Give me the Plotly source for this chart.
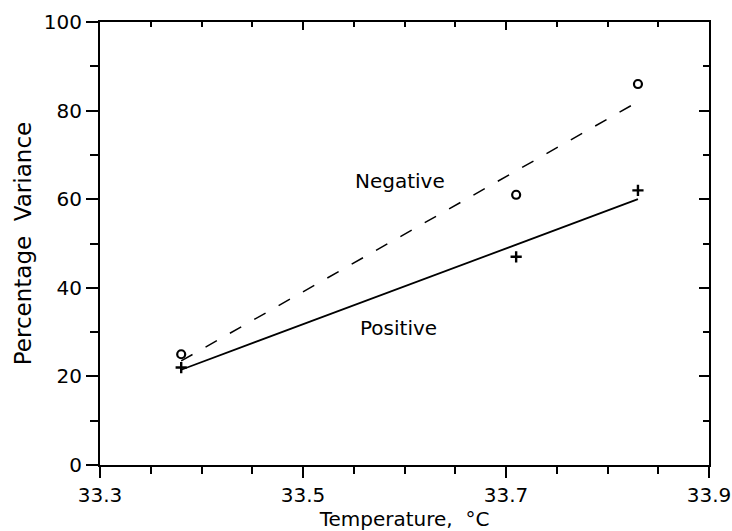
import plotly.graph_objects as go

# Data
temp = [33.38, 33.71, 33.83]
negative = [25, 61, 86]
positive = [22, 47, 62]

# Fitted line endpoints
fit_x = [33.38, 33.83]
neg_fit = [23.5, 82]
pos_fit = [21.5, 60]

x_ticks = [33.3, 33.5, 33.7, 33.9]
y_ticks = [0, 20, 40, 60, 80, 100]

FONT = "DejaVu Sans, Liberation Sans, Arial, sans-serif"

fig = go.Figure()
fig.add_trace(go.Scatter(x=fit_x, y=neg_fit, mode="lines",
                         line=dict(color="black", width=1.5, dash="13px,15px"),
                         showlegend=False, hoverinfo="skip"))
fig.add_trace(go.Scatter(x=fit_x, y=pos_fit, mode="lines",
                         line=dict(color="black", width=1.8),
                         showlegend=False, hoverinfo="skip"))
fig.add_trace(go.Scatter(x=temp, y=negative, mode="markers",
                         marker=dict(symbol="circle-open", size=8, color="black",
                                     line=dict(width=2.2, color="black")),
                         showlegend=False))
fig.add_trace(go.Scatter(x=temp, y=positive, mode="markers",
                         marker=dict(symbol="cross-thin", size=8, color="black",
                                     line=dict(width=2.4, color="black")),
                         showlegend=False))
# invisible trace to anchor mirrored axes
fig.add_trace(go.Scatter(x=[33.3], y=[0], xaxis="x2", yaxis="y2", mode="markers",
                         marker=dict(opacity=0), showlegend=False, hoverinfo="skip"))

fig.add_annotation(x=33.596, y=64.2, text="Negative", showarrow=False,
                   font=dict(family=FONT, size=20, color="black"))
fig.add_annotation(x=33.594, y=31.0, text="Positive", showarrow=False,
                   font=dict(family=FONT, size=20, color="black"))

fig.update_layout(
    width=732, height=531,
    margin=dict(l=100, r=23, t=22, b=66),
    paper_bgcolor="white", plot_bgcolor="white",
    font=dict(family=FONT, color="black"),
    xaxis=dict(range=[33.3, 33.9], tickvals=x_ticks, ticktext=[f"{v:.1f}" for v in x_ticks],
               ticks="outside", ticklen=11, tickwidth=2, tickcolor="black",
               minor=dict(dtick=0.05, tick0=33.3, ticks="outside", ticklen=7, tickwidth=1.5, tickcolor="black"),
               showline=True, linecolor="black", linewidth=2, showgrid=False, zeroline=False,
               tickfont=dict(size=20), ticklabeloverflow="allow", automargin=False,
               title=dict(text="Temperature,  °C", font=dict(size=20), standoff=3)),
    yaxis=dict(range=[0, 100], tickvals=y_ticks,
               ticks="outside", ticklen=12, tickwidth=2, tickcolor="black",
               minor=dict(dtick=10, tick0=0, ticks="outside", ticklen=8, tickwidth=1.5, tickcolor="black"),
               showline=True, linecolor="black", linewidth=2, showgrid=False, zeroline=False,
               tickfont=dict(size=20), ticklabeloverflow="allow", automargin=False,
               title=dict(text="Percentage  Variance", font=dict(size=23), standoff=6)),
    xaxis2=dict(range=[33.3, 33.9], overlaying="x", side="top", anchor="y2",
                tickvals=x_ticks, showticklabels=False, automargin=False,
                ticks="inside", ticklen=8, tickwidth=2, tickcolor="black",
                minor=dict(dtick=0.05, tick0=33.3, ticks="inside", ticklen=5, tickwidth=1.5, tickcolor="black"),
                showline=True, linecolor="black", linewidth=2, showgrid=False, zeroline=False),
    yaxis2=dict(range=[0, 100], overlaying="y", side="right", anchor="x2",
                tickvals=y_ticks, showticklabels=False, automargin=False,
                ticks="inside", ticklen=10, tickwidth=2, tickcolor="black",
                minor=dict(dtick=10, tick0=0, ticks="inside", ticklen=6, tickwidth=1.5, tickcolor="black"),
                showline=True, linecolor="black", linewidth=2, showgrid=False, zeroline=False),
)

fig.write_html("out.html")
